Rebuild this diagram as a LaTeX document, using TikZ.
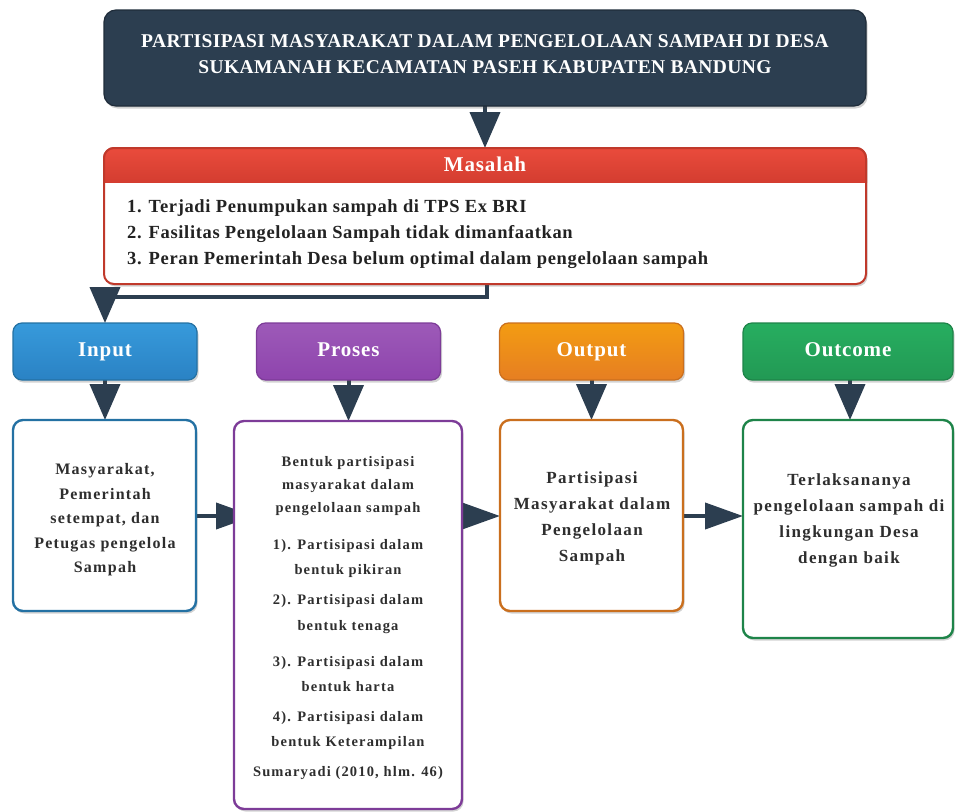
\documentclass[tikz,border=0pt]{standalone}
\usepackage{fontspec}
\setmainfont{Liberation Serif}
\newfontfamily\ttlfont{Liberation Serif}[LetterSpace=2]
\newfontfamily\hdrfont{Liberation Serif}[LetterSpace=4]
\newfontfamily\lstfont{Liberation Serif}[LetterSpace=3.5]
\newfontfamily\bdyfont{Liberation Serif}[LetterSpace=8]
\usetikzlibrary{arrows.meta,shadows,calc}
\pgfdeclarelayer{bg}
\pgfsetlayers{bg,main}
\definecolor{navy}{HTML}{2C3E50}
\definecolor{navyborder}{HTML}{1F2C3A}
\definecolor{redtop}{HTML}{E94B3C}
\definecolor{redbot}{HTML}{C9362A}
\definecolor{redborder}{HTML}{C0392B}
\definecolor{bluetop}{HTML}{379ADB}
\definecolor{bluebot}{HTML}{2A82C4}
\definecolor{blueborder}{HTML}{2471A3}
\definecolor{purtop}{HTML}{9D5AB8}
\definecolor{purbot}{HTML}{8E44AD}
\definecolor{purborder}{HTML}{7D3C98}
\definecolor{ortop}{HTML}{F39C12}
\definecolor{orbot}{HTML}{E67E22}
\definecolor{orborder}{HTML}{CA6F1E}
\definecolor{grtop}{HTML}{27AE60}
\definecolor{grbot}{HTML}{229954}
\definecolor{grborder}{HTML}{1E8449}
\definecolor{textgray}{HTML}{2E2E2E}
\definecolor{listgray}{HTML}{222222}
\tikzset{
  shad/.style={drop shadow={opacity=0.25, shadow xshift=1.5pt, shadow yshift=-2.5pt, fill=black!70}},
  hdr/.style={rectangle, rounded corners=9pt, minimum width=184pt, minimum height=57pt,
    inner sep=0pt, outer sep=0pt, text=white, line width=1.2pt, shad,
    text height=15pt, text depth=5pt,
    font=\hdrfont\bfseries\fontsize{21}{24}\selectfont},
  bodybox/.style={rectangle, rounded corners=10pt, fill=white, line width=2.4pt,
    inner sep=0pt, outer sep=0pt, shad},
  txt/.style={inner sep=0pt, align=center, text=textgray},
  bodytxt/.style={txt, font=\bdyfont\bfseries\fontsize{16}{24.5}\selectfont},
  bodytxtb/.style={txt, font=\bdyfont\bfseries\fontsize{17}{26}\selectfont},
  prtxt/.style={txt, font=\bdyfont\bfseries\fontsize{14.5}{23}\selectfont},
  lst/.style={inner sep=0pt, anchor=base west, text=listgray,
    font=\lstfont\bfseries\fontsize{18.5}{26}\selectfont},
  conn/.style={draw=navy, line width=4pt},
  arr/.style={conn, -{Triangle[length=36pt, width=30pt]}},
  harr/.style={conn, -{Triangle[length=38pt, width=26pt]}},
}
\begin{document}
\begin{tikzpicture}[x=1pt, y=-1pt]
\useasboundingbox (0,0) rectangle (955,811);

% title
\node[rectangle, rounded corners=12pt, minimum width=762pt, minimum height=96pt,
  fill=navy, draw=navyborder, line width=1.2pt, outer sep=0pt, shad] (title) at (485,58) {};
\node[txt, text=white, font=\ttlfont\bfseries\fontsize{19.5}{26}\selectfont] (ttl) at (485,54)
  {PARTISIPASI MASYARAKAT DALAM PENGELOLAAN SAMPAH DI DESA\\SUKAMANAH KECAMATAN PASEH KABUPATEN BANDUNG};

% masalah
\node[rectangle, rounded corners=10pt, minimum width=762pt, minimum height=136pt,
  fill=white, draw=redborder, line width=2pt, outer sep=0pt, shad] (masalah) at (485,216) {};
\begin{scope}
  \clip ($(masalah.north west)+(-5,-5)$) rectangle ($(masalah.north east)+(5,34)$);
  \draw[rounded corners=10pt, top color=redtop, bottom color=redbot, draw=redborder, line width=2pt]
    (masalah.north west) rectangle ($(masalah.north east)+(0,52)$);
\end{scope}
\node[txt, text=white, font=\hdrfont\bfseries\fontsize{21}{24}\selectfont] (mh) at (485,164) {Masalah};
\node[lst] (m1) at (127,212) {1. Terjadi Penumpukan sampah di TPS Ex BRI};
\node[lst] (m2) at (127,238) {2. Fasilitas Pengelolaan Sampah tidak dimanfaatkan};
\node[lst] (m3) at (127,264) {3. Peran Pemerintah Desa belum optimal dalam pengelolaan sampah};

% headers
\node[hdr, draw=blueborder, top color=bluetop, bottom color=bluebot] (inh) at (105,351.5) {Input};
\node[hdr, draw=purborder, top color=purtop, bottom color=purbot] (prh) at (348.5,351.5) {Proses};
\node[hdr, draw=orborder, top color=ortop, bottom color=orbot] (ouh) at (591.5,351.5) {Output};
\node[hdr, minimum width=210pt, draw=grborder, top color=grtop, bottom color=grbot] (och) at (848,351.5) {Outcome};

% bodies
\node[bodybox, draw=blueborder, minimum width=183pt, minimum height=191pt] (inb) at (104.5,515.5) {};
\node[bodybox, draw=purborder, minimum width=228pt, minimum height=388pt] (prb) at (348,615) {};
\node[bodybox, draw=orborder, minimum width=183pt, minimum height=191pt] (oub) at (591.5,515.5) {};
\node[bodybox, draw=grborder, minimum width=210pt, minimum height=218pt] (ocb) at (848,529) {};

\node[bodytxt] (int) at (105,520) {Masyarakat,\\Pemerintah\\setempat, dan\\Petugas pengelola\\Sampah};
\node[prtxt] (prt) at (348,618) {Bentuk partisipasi\\masyarakat dalam\\pengelolaan sampah\\[14pt]
  1). Partisipasi dalam\\[2pt]bentuk pikiran\\[7pt]2). Partisipasi dalam\\[3pt]bentuk tenaga\\[13pt]
  3). Partisipasi dalam\\[2pt]bentuk harta\\[7pt]4). Partisipasi dalam\\[2pt]bentuk Keterampilan\\[7pt]
  Sumaryadi (2010, hlm. 46)};
\node[bodytxtb] (out) at (592,518) {Partisipasi\\Masyarakat dalam\\Pengelolaan\\Sampah};
\node[bodytxtb] (oct) at (849,520) {Terlaksananya\\pengelolaan sampah di\\lingkungan Desa\\dengan baik};

% connectors
\coordinate (hy) at (0,516);
\coordinate (jy) at (0,297);
\begin{pgfonlayer}{bg}
  \draw[arr] (title.south) -- (masalah.north);
  \draw[conn] ($(masalah.south)+(2,0)$) |- (inh.north |- jy);
  \draw[arr] ($(inh.north)+(0,-36)$) -- (inh.north);
  \draw[arr] (inh.south) -- (inh.south |- inb.north);
  \draw[arr] (prh.south) -- (prh.south |- prb.north);
  \draw[arr] (ouh.south) -- (ouh.south |- oub.north);
  \draw[arr] ($(och.south)+(2,0)$) -- ($(och.south |- ocb.north)+(2,0)$);
  \draw[harr] (inb.east |- hy) -- ($(prb.west |- hy)+(20,0)$);
  \draw[harr] (prb.east |- hy) -- (oub.west |- hy);
  \draw[harr] (oub.east |- hy) -- (ocb.west |- hy);
\end{pgfonlayer}
\end{tikzpicture}
\end{document}
